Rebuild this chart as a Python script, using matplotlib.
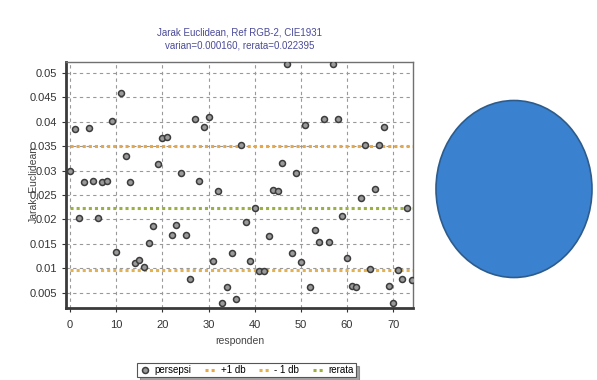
import numpy as np
import matplotlib
matplotlib.use("Agg")
import matplotlib.pyplot as plt
from matplotlib.patches import Ellipse

plt.rcParams['font.family'] = ['Liberation Sans', 'DejaVu Sans']

# jarak euclidean per responden
responden = list(range(75))
persepsi = [
    0.0300, 0.0385, 0.0203, 0.0277, 0.0387, 0.0279, 0.0203, 0.0277, 0.0278, 0.0402,
    0.0133, 0.0459, 0.0330, 0.0277, 0.0111, 0.0117, 0.0102, 0.0152, 0.0186, 0.0314,
    0.0367, 0.0369, 0.0168, 0.0189, 0.0296, 0.0168, 0.0078, 0.0406, 0.0278, 0.0389,
    0.0409, 0.0115, 0.0259, 0.0030, 0.0061, 0.0131, 0.0038, 0.0352, 0.0194, 0.0115,
    0.0223, 0.0095, 0.0095, 0.0167, 0.0260, 0.0259, 0.0315, 0.0517, 0.0132, 0.0296,
    0.0113, 0.0393, 0.0061, 0.0178, 0.0154, 0.0406, 0.0154, 0.0517, 0.0406, 0.0208,
    0.0121, 0.0063, 0.0061, 0.0244, 0.0353, 0.0098, 0.0262, 0.0353, 0.0389, 0.0063,
    0.0030, 0.0096, 0.0079, 0.0223, 0.0076,
]
varian = 0.000160
rerata = 0.022395
db = np.sqrt(varian)

fig = plt.figure(figsize=(5.97, 3.8), dpi=100)
ax = fig.add_axes([0.1106, 0.1895, 0.5812, 0.6474])

ax.grid(True, linestyle=(0, (3, 3)), color='#999999', linewidth=0.8)
ax.set_axisbelow(True)

xs = [responden[0], responden[-1] + 2]
ax.plot(xs, [rerata + db] * 2, color='#e8a848', linestyle=(0, (1, 1)), linewidth=2.2, label='+1 db')
ax.plot(xs, [rerata - db] * 2, color='#e6b04a', linestyle=(0, (1, 1)), linewidth=2.2, label='- 1 db')
ax.plot(xs, [rerata] * 2, color='#9ab040', linestyle=(0, (1, 1)), linewidth=2.2, label='rerata')
ax.plot(responden, persepsi, linestyle='none', marker='o', markersize=4.3,
        markerfacecolor='#9a9a9a', markeredgecolor='#3c3c3c', markeredgewidth=1.1,
        label='persepsi', zorder=5)

ax.set_xlim(-0.9, 74.3)
ax.set_ylim(0.0019, 0.0522)
ax.set_xticks(range(0, 71, 10))
ax.set_yticks([0.005, 0.01, 0.015, 0.02, 0.025, 0.03, 0.035, 0.04, 0.045, 0.05])
ax.set_yticklabels(['0.005', '0.01', '0.015', '0.02', '0.025', '0.03', '0.035', '0.04', '0.045', '0.05'])
ax.tick_params(labelsize=8, colors='#333333', length=3)
ax.tick_params(axis='x', pad=6)

for side in ['top', 'right']:
    ax.spines[side].set_color('#707070')
    ax.spines[side].set_linewidth(1.0)
for side in ['left', 'bottom']:
    ax.spines[side].set_color('#3a3a3a')
    ax.spines[side].set_linewidth(2.0)

ax.set_xlabel('responden', fontsize=7.5, color='#444444', labelpad=4)
ax.set_ylabel('Jarak_Euclidean', fontsize=7.5, color='#444444', labelpad=-6)
ax.set_title('Jarak Euclidean, Ref RGB-2, CIE1931\nvarian=%.6f, rerata=%.6f' % (varian, rerata),
             fontsize=7, color='#4a4a9a', pad=10, linespacing=1.3)

h, l = ax.get_legend_handles_labels()
order = [3, 0, 1, 2]
leg = ax.legend([h[i] for i in order], [l[i] for i in order], ncol=4, fontsize=7,
                loc='upper center', bbox_to_anchor=(0.52, -0.205), frameon=True,
                fancybox=False, shadow=True, handlelength=1.2, handletextpad=0.4,
                columnspacing=1.4, borderpad=0.2)
leg.get_frame().set_edgecolor('#555555')
leg.get_frame().set_linewidth(0.8)

# elips biru di kanan
ax2 = fig.add_axes([0, 0, 1, 1])
ax2.set_xlim(0, 597)
ax2.set_ylim(380, 0)
ax2.axis('off')
ax2.add_patch(Ellipse((514, 189), 156, 177, facecolor='#3a82d0', edgecolor='#2d5c8c', linewidth=1.2))

fig.savefig('out.png', dpi=100)
